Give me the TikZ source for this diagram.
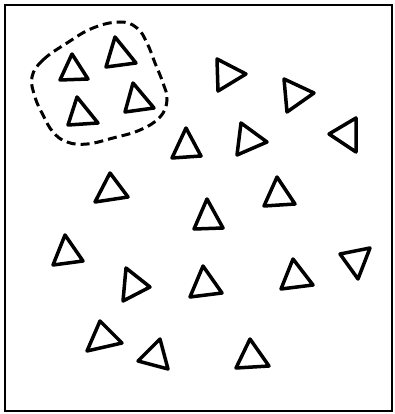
\documentclass[tikz,border=0pt]{standalone}
\tikzset{
  tri/.style={draw=black, line width=3.5pt, line join=round},
  frame/.style={draw=black, line width=2.6pt},
  loop/.style={draw=black, line width=3pt, dash pattern=on 9pt off 5pt}
}
\begin{document}
\begin{tikzpicture}[x=1pt,y=-1pt]
\useasboundingbox (0,0) rectangle (394,414);
\fill[white] (0,0) rectangle (394,414);
% frame
\draw[frame] (5,5) rectangle (392,411);
% dashed group
\draw[loop] plot[smooth cycle, tension=0.7] coordinates {
 (32,77) (43,60) (67,43) (93,28) (120,22) (137,28) (147,43) (155,63)
 (163,83) (167,100) (160,117) (140,130) (113,138) (87,144) (67,142)
 (53,132) (43,115) (35,97)};
% triangles
\draw[tri] (72,54) -- (60,80) -- (88,79) -- cycle;
\draw[tri] (115,37) -- (106,67) -- (136,63) -- cycle;
\draw[tri] (77,97) -- (68,125) -- (98,123) -- cycle;
\draw[tri] (133,83) -- (125,112) -- (154,108) -- cycle;
\draw[tri] (186,128) -- (172,158) -- (201,156) -- cycle;
\draw[tri] (110,173) -- (95,202) -- (128,197) -- cycle;
\draw[tri] (217,59) -- (218,91) -- (246,74) -- cycle;
\draw[tri] (284,79) -- (287,112) -- (314,93) -- cycle;
\draw[tri] (241,123) -- (237,155) -- (267,142) -- cycle;
\draw[tri] (356,118) -- (356,152) -- (329,134) -- cycle;
\draw[tri] (277,177) -- (264,206) -- (295,204) -- cycle;
\draw[tri] (207,199) -- (194,229) -- (223,228) -- cycle;
\draw[tri] (65,235) -- (53,265) -- (83,261) -- cycle;
\draw[tri] (126,268) -- (123,301) -- (150,287) -- cycle;
\draw[tri] (100,321) -- (87,351) -- (122,343) -- cycle;
\draw[tri] (160,339) -- (138,361) -- (168,369) -- cycle;
\draw[tri] (203,266) -- (190,297) -- (222,293) -- cycle;
\draw[tri] (293,259) -- (281,289) -- (313,285) -- cycle;
\draw[tri] (340,254) -- (370,248) -- (358,279) -- cycle;
\draw[tri] (250,339) -- (236,368) -- (269,366) -- cycle;
\end{tikzpicture}
\end{document}
